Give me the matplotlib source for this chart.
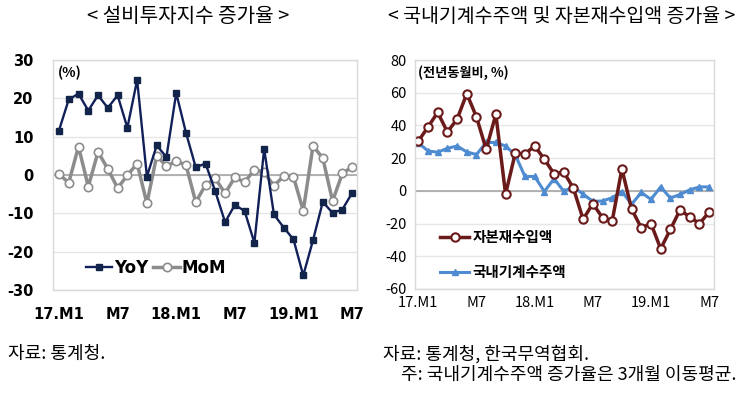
import matplotlib
matplotlib.use('Agg')
import matplotlib.pyplot as plt

plt.rcParams['font.family'] = ['Noto Sans CJK KR', 'DejaVu Sans']
plt.rcParams['axes.unicode_minus'] = False

# left panel: 설비투자지수 (17.M1 ~ 19.M7)
yoy = [11.6, 19.7, 21.2, 16.8, 20.8, 17.5, 20.8, 12.3, 24.8, -0.4,
       7.7, 4.7, 21.4, 11.0, 2.0, 3.0, -4.3, -12.3, -7.8, -9.4,
       -17.7, 6.8, -10.3, -13.7, -16.8, -26.2, -17.0, -7.0, -9.9, -9.0, -4.7]
mom = [0.2, -2.0, 7.4, -3.0, 6.0, 1.6, -3.4, -0.1, 3.0, -7.4,
       5.0, 2.3, 3.6, 2.6, -7.1, -2.6, -0.9, -4.8, -0.6, -1.9,
       1.4, 0.7, -2.8, -0.3, -0.5, -9.3, 7.6, 4.4, -6.8, 0.4, 2.1]

# right panel
capital_imports = [30.4, 39.0, 48.0, 36.0, 43.8, 59.4, 45.2, 25.4, 46.8, -2.0,
                   23.0, 22.6, 27.4, 19.4, 10.4, 11.5, 1.6, -17.4, -7.8, -16.4,
                   -18.4, 13.4, -11.2, -22.6, -20.0, -35.4, -23.6, -11.6, -16.0, -20.0, -13.0]
machine_orders = [29.4, 24.4, 23.6, 26.0, 27.4, 23.8, 22.2, 29.6, 29.6, 27.4,
                  22.0, 8.8, 8.8, -0.4, 7.4, -0.2, 2.4, -2.0, -6.4, -6.2,
                  -4.2, -0.4, -8.2, -1.0, -5.2, 2.4, -4.4, -2.2, 0.6, 2.4, 2.4]

tick_pos = [0, 6, 12, 18, 24, 30]
tick_labels = ['17.M1', 'M7', '18.M1', 'M7', '19.M1', 'M7']

fig = plt.figure(figsize=(7.5, 3.97), dpi=100)
W, H = 750, 397


def make_axes(x0, x1, y0, y1):
    ax = fig.add_axes([x0 / W, 1 - y1 / H, (x1 - x0) / W, (y1 - y0) / H])
    for s in ax.spines.values():
        s.set_color('#d9d9d9')
        s.set_linewidth(1)
    ax.tick_params(length=0)
    ax.grid(axis='y', color='#e6e6e6', linewidth=1)
    ax.set_axisbelow(True)
    ax.set_xticks(tick_pos)
    return ax


x = list(range(len(yoy)))

"""
Left
"""
ax1 = make_axes(53, 357, 60, 290)
ax1.axhline(0, color='#a6a6a6', linewidth=1.2, zorder=1)
ax1.plot(x, mom, color='#8c8c8c', linewidth=2.5, marker='o', markersize=6,
         markerfacecolor='white', markeredgecolor='#8c8c8c', markeredgewidth=1.2, label='MoM')
ax1.plot(x, yoy, color='#12205a', linewidth=1.7, marker='s', markersize=5,
         markerfacecolor='#12244a', markeredgecolor='#12244a', label='YoY')
ax1.set_ylim(-30, 30)
ax1.set_yticks(range(-30, 31, 10))
ax1.set_xlim(-0.61, 30.5)
ax1.set_xticklabels(tick_labels, fontsize=10.5, fontweight='bold', family=['DejaVu Sans'])
ax1.set_yticklabels([str(v) for v in range(-30, 31, 10)], fontsize=10.5,
                    fontweight='bold', family=['DejaVu Sans'])
ax1.tick_params(axis='x', pad=12)
ax1.tick_params(axis='y', pad=14)
h, l = ax1.get_legend_handles_labels()
ax1.legend(h[::-1], l[::-1], ncol=2, frameon=False, loc='center left',
           bbox_to_anchor=(0.08, 0.095), handlelength=1.6, handletextpad=0.1,
           columnspacing=0.3, borderpad=0,
           prop={'size': 12, 'weight': 'bold', 'family': 'DejaVu Sans'})
ax1.text(0.015, 0.975, '(%)', transform=ax1.transAxes, fontsize=10, fontweight='bold',
         va='top', ha='left')

"""
Right
"""
ax2 = make_axes(415, 714, 60, 289)
ax2.axhline(0, color='#a6a6a6', linewidth=1.2, zorder=1)
ax2.plot(x, machine_orders, color='#4f8bd0', linewidth=2.2, marker='^', markersize=5,
         markerfacecolor='#4f8bd0', markeredgecolor='#4f8bd0', label='국내기계수주액')
ax2.plot(x, capital_imports, color='#6b1a1a', linewidth=2.5, marker='o', markersize=6,
         markerfacecolor='white', markeredgecolor='#6b1a1a', markeredgewidth=1.5,
         label='자본재수입액')
ax2.set_ylim(-60, 80)
ax2.set_yticks(range(-60, 81, 20))
ax2.set_xlim(-0.34, 30.5)
ax2.set_xticklabels(tick_labels, fontsize=10.5)
ax2.tick_params(axis='x', pad=5)
ax2.tick_params(axis='y', pad=6, labelsize=10.5)
h, l = ax2.get_legend_handles_labels()
ax2.legend(h[::-1], l[::-1], frameon=False, loc='center left', bbox_to_anchor=(0.06, 0.15),
           handlelength=2.0, handletextpad=0.2, labelspacing=1.3, borderpad=0,
           prop={'size': 10.5, 'weight': 'bold'})
ax2.text(0.01, 0.975, '(전년동월비, %)', transform=ax2.transAxes, fontsize=9.5,
         fontweight='bold', va='top', ha='left')

"""
Titles and notes
"""
fig.text(188 / W, 1 - 17 / H, '< 설비투자지수 증가율 >', ha='center', va='center', fontsize=14.5)
fig.text(562 / W, 1 - 17 / H, '< 국내기계수주액 및 자본재수입액 증가율 >', ha='center',
         va='center', fontsize=14)
fig.text(8 / W, 1 - 354 / H, '자료: 통계청.', ha='left', va='center', fontsize=13)
fig.text(383 / W, 1 - 354 / H, '자료: 통계청, 한국무역협회.', ha='left', va='center', fontsize=13)
fig.text(401 / W, 1 - 375 / H, '주: 국내기계수주액 증가율은 3개월 이동평균.', ha='left',
         va='center', fontsize=13)

fig.savefig('out.png', dpi=100)
